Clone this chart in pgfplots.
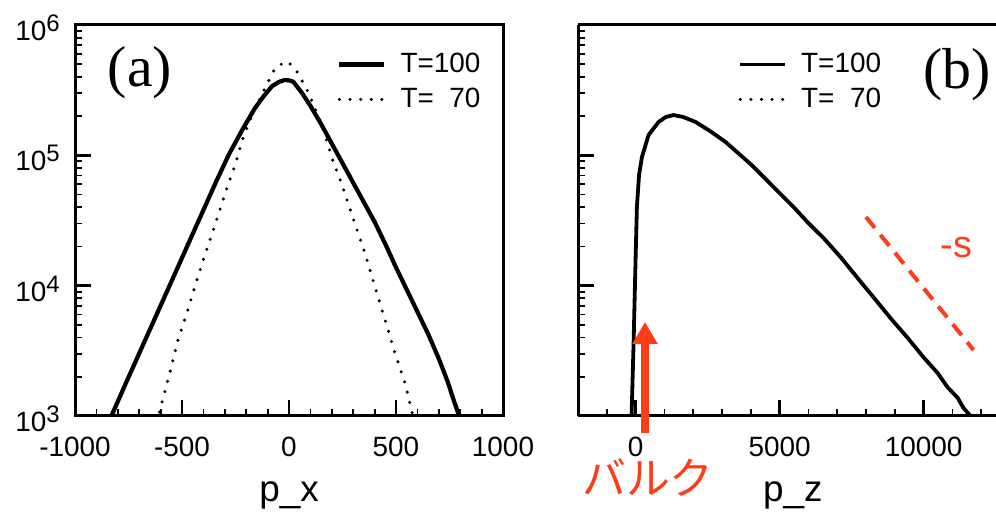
\documentclass[border=0pt]{standalone}
\usepackage{pgfplots}
\pgfplotsset{compat=1.18}
\usepackage{fontspec}
\setmainfont{Liberation Sans}
\newfontfamily\serifa{Liberation Serif}
\newfontfamily\cjk{Noto Sans CJK JP}
\usetikzlibrary{arrows.meta}
\definecolor{bred}{RGB}{255,60,22}
\newcommand\ex[1]{10\raisebox{4.5bp}{\fontsize{12}{12}\selectfont #1}}
\tikzset{
  solidstyle/.style={black, line width=2.1bp, line join=round},
  dotstyle/.style={black, line width=1.7bp, line cap=round, dash pattern=on 0bp off 5.3bp},
}
\begin{document}
\begin{tikzpicture}
\useasboundingbox (0,0) rectangle (498bp,256bp);
% ---------------- panel (a)
\begin{axis}[
  scale only axis, ymode=log, ymin=1000, ymax=1e6,
  height=195.5bp, width=214bp,
  at={(37.5bp,48bp)}, anchor=south west,
  xmin=-1000, xmax=1000,
  ytick={1e3,1e4,1e5,1e6},
  xtick={-1000,-500,0,500,1000}, xticklabels={-1000,-500,0,500,1000},
  minor x tick num=4,
  yticklabels={\ex{3},\ex{4},\ex{5},\ex{6}},
  xtick pos=bottom, ytick pos=left,
  tick align=inside,
  major tick length=8bp, minor tick length=3.5bp,
  every major tick/.append style={line width=1.4bp, black},
  every minor tick/.append style={line width=0.9bp, black},
  axis line style={line width=1.5bp},
  tick label style={font=\fontsize{14}{16}\selectfont},
  xticklabel style={anchor=base, yshift=-20.5bp},
  yticklabel style={anchor=east, inner sep=0pt, xshift=-7.5bp, yshift=-1.5bp},
  xlabel={p\_x},
  xlabel style={font=\fontsize{18.5}{20}\selectfont, at={(axis description cs:0.5,0)}, anchor=base, yshift=-43bp},
  legend style={draw=none, fill=none, inner sep=0pt, row sep=3.5bp, column sep=6bp,
     font=\fontsize{14}{16}\selectfont, anchor=north west,
     nodes={inner sep=1bp, text height=10bp, text depth=2bp},
     at={(axis description cs:0.6120,0.936)}},
  legend cell align=left,
  legend image code/.code={\draw[#1] (0bp,0bp) -- (22.5bp,0bp);},
  clip mode=individual,
]
\addplot[solidstyle] coordinates {
(-845,900) (-830,1000) (-760,1820) (-700,3020) (-640,5010) (-580,8318) (-520,13800)
(-460,22910) (-400,38020) (-340,63100) (-280,102300) (-220,154900) (-160,229100)
(-120,281800) (-80,338800) (-45,367300) (-20,378400) (0,375800) (20,367300)
(60,302000) (100,239900) (150,173800) (200,123000) (250,87100) (300,61660)
(350,43650) (400,30900) (450,20890) (500,13800) (550,9333) (600,6310) (650,4266)
(700,2754) (740,1862) (770,1318) (795,1000) (805,900)
};
\addlegendentry{T=100}
\addplot[dotstyle] coordinates {
(-615,891) (-603,1109) (-556,2173) (-519,3828) (-477,6166) (-435,10470) (-393,17180)
(-346,29170) (-290,56100) (-252,84330) (-215,135800) (-182,186600) (-121,306200)
(-65,467700) (-19,520000) (-5,524800) (42,428500) (89,306200) (154,171000)
(201,95280) (248,59160) (299,33040) (355,17780) (402,9750) (449,5445) (495,3041)
(542,1791) (575,1072) (585,891)
};
\addlegendentry{T=\hphantom{1}70}
\node[font=\serifa\fontsize{29}{30}\selectfont] at (axis description cs:0.152,0.877) {(a)};
\end{axis}
% ---------------- panel (b)
\begin{axis}[
  scale only axis, ymode=log, ymin=1000, ymax=1e6,
  height=195.5bp, width=208.8bp,
  at={(289bp,48bp)}, anchor=south west,
  xmin=-2000, xmax=12500,
  axis x line*=box, axis y line*=left,
  ytick={1e3,1e4,1e5,1e6},
  xtick={0,5000,10000}, xticklabels={0,5000,10000},
  minor xtick={-1000,1000,2000,3000,4000,6000,7000,8000,9000,11000,12000},
  yticklabels={},
  xtick pos=bottom, ytick pos=left,
  tick align=inside,
  major tick length=8bp, minor tick length=3.5bp,
  every major tick/.append style={line width=1.4bp, black},
  every minor tick/.append style={line width=0.9bp, black},
  axis line style={line width=1.5bp},
  tick label style={font=\fontsize{14}{16}\selectfont},
  xticklabel style={anchor=base, yshift=-20.5bp},
  xlabel={p\_z},
  xlabel style={font=\fontsize{18.5}{20}\selectfont, at={(axis description cs:0.5,0)}, anchor=base, yshift=-43bp, xshift=3bp},
  legend style={draw=none, fill=none, inner sep=0pt, row sep=3.5bp, column sep=6bp,
     font=\fontsize{14}{16}\selectfont, anchor=north west,
     nodes={inner sep=1bp, text height=10bp, text depth=2bp},
     at={(axis description cs:0.3831,0.936)}},
  legend cell align=left,
  legend image code/.code={\draw[#1] (0bp,0bp) -- (22.5bp,0bp);},
  clip mode=individual,
]
\addplot[black, line width=1.9bp, line join=round] coordinates {
(-150,891) (-139,1016) (-69,3690) (0,16290) (45,40090) (120,70790) (220,97050)
(451,143200) (799,180300) (1050,197000) (1319,203700) (1650,197000) (2083,180300)
(2600,152800) (3125,126500) (4028,84330) (4965,52240) (5500,39810) (6000,30200)
(6528,23170) (7118,16560) (7813,10720) (8264,8128) (8854,5623) (9444,3981)
(10000,2818) (10486,2138) (10833,1660) (11181,1380) (11389,1148) (11632,1000)
(11700,891)
};
\addlegendentry{T=100}
\addlegendimage{dotstyle}
\addlegendentry{T=\hphantom{1}70}
\addplot[bred, line width=2bp, dash pattern=on 7bp off 4.5bp, forget plot] coordinates {
(8000,33650) (11736,3206)
};
\node[bred, font=\fontsize{19}{20}\selectfont] at (axis cs:11146,19770) {-s};
\node[font=\serifa\fontsize{29}{30}\selectfont] at (axis description cs:0.9076,0.872) {(b)};
\draw[bred, line width=3.6bp, -{Triangle[width=12bp,length=11bp]}]
  (axis description cs:0.1604,-0.0435) -- (axis description cs:0.1604,0.2404);
\node[bred, font=\cjk\fontsize{22}{24}\selectfont] at (axis description cs:0.1676,-0.1586) {バルク};
\end{axis}
\end{tikzpicture}
\end{document}
